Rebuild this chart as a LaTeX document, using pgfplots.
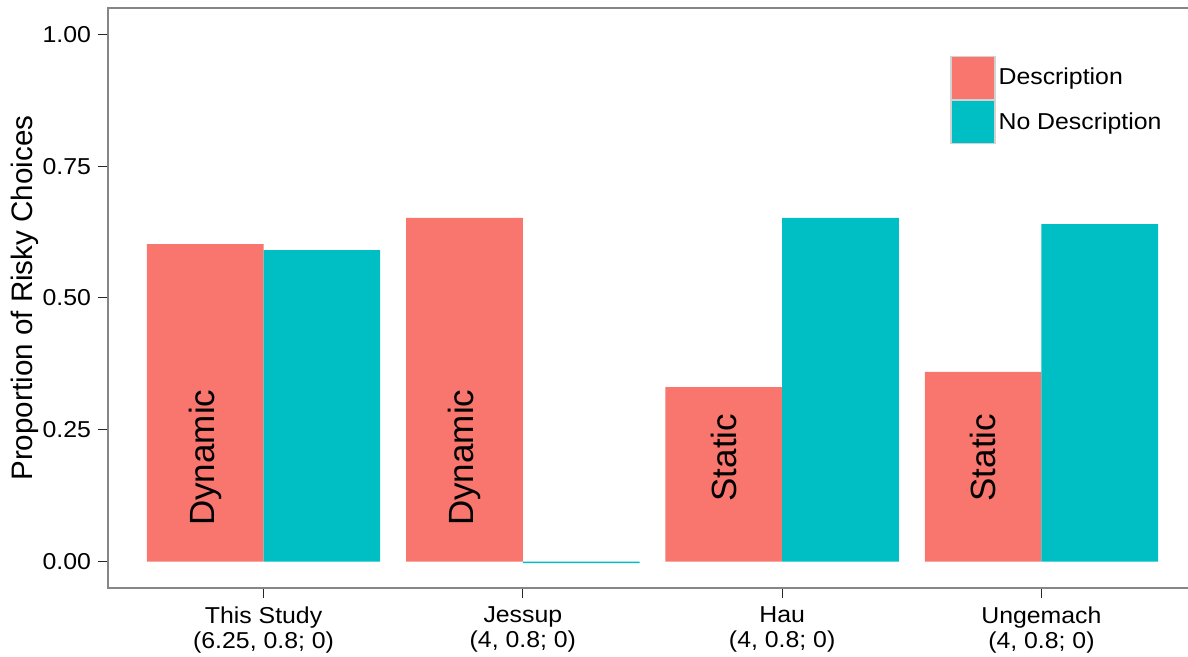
\documentclass[border=0pt]{standalone}
\usepackage{pgfplots}
\pgfplotsset{compat=1.18}
\usepackage{fontspec}
\setmainfont{Liberation Sans}[FakeStretch=1.08]
\newfontfamily\rotfont{Liberation Sans}
\definecolor{cDesc}{HTML}{F8766D}
\definecolor{cNo}{HTML}{00BFC4}
\begin{document}
\begin{tikzpicture}
\begin{axis}[
  at={(0,0)}, anchor=south west,
  scale only axis, width=544.5pt, height=290pt,
  xmin=0.4, xmax=4.6, ymin=-0.05, ymax=1.05,
  xtick={1,2,3,4},
  xticklabels={{This Study\\(6.25, 0.8; 0)},{Jessup\\(4, 0.8; 0)},{Hau\\(4, 0.8; 0)},{Ungemach\\(4, 0.8; 0)}},
  xticklabel style={align=center, font=\fontsize{11.5}{12.5}\selectfont, yshift=-1pt},
  ytick={0,0.25,0.5,0.75,1},
  yticklabel style={/pgf/number format/fixed, /pgf/number format/fixed zerofill, /pgf/number format/precision=2, /pgf/number format/assume math mode=true, font=\fontsize{11.5}{13}\selectfont},
  tick align=outside, major tick length=5pt,
  tick pos=left,
  major tick style={black!85, line width=0.5pt},
  axis line style={draw=gray!95, line width=0.6pt},
  ylabel={Proportion of Risky Choices},
  ylabel style={font=\rotfont\fontsize{14.8}{16}\selectfont},
  ylabel shift=-5pt,
  legend style={at={(0.7732,0.918)}, anchor=north west, draw=none, fill=none, inner sep=0pt, row sep=0pt,
    font=\fontsize{11.5}{13}\selectfont, nodes={inner sep=1.5pt}},
  legend cell align=left,
  legend image code/.code={\draw[#1, draw=gray!35, line width=0.6pt] (0pt,-10.75pt) rectangle (22pt,10.75pt);},
]
\addplot[ybar, bar width=0.45, bar shift=0pt, fill=cDesc, draw=none] coordinates {
  (0.775,0.602) (1.775,0.652) (2.775,0.331) (3.775,0.360)};
\addlegendentry{Description}
\addplot[ybar, bar width=0.45, bar shift=0pt, fill=cNo, draw=none] coordinates {
  (1.225,0.591) (2.225,-0.003) (3.225,0.652) (4.225,0.640)};
\addlegendentry{No Description}
\node[rotate=90, font=\rotfont\fontsize{17.5}{19}\selectfont] at (axis cs:0.775,0.197) {Dynamic};
\node[rotate=90, font=\rotfont\fontsize{17.5}{19}\selectfont] at (axis cs:1.775,0.197) {Dynamic};
\node[rotate=90, font=\rotfont\fontsize{17.5}{19}\selectfont] at (axis cs:2.775,0.197) {Static};
\node[rotate=90, font=\rotfont\fontsize{17.5}{19}\selectfont] at (axis cs:3.775,0.197) {Static};
\end{axis}
\pgfresetboundingbox
\path (-54pt,-34.5pt) rectangle (540pt,294pt);
\end{tikzpicture}
\end{document}
